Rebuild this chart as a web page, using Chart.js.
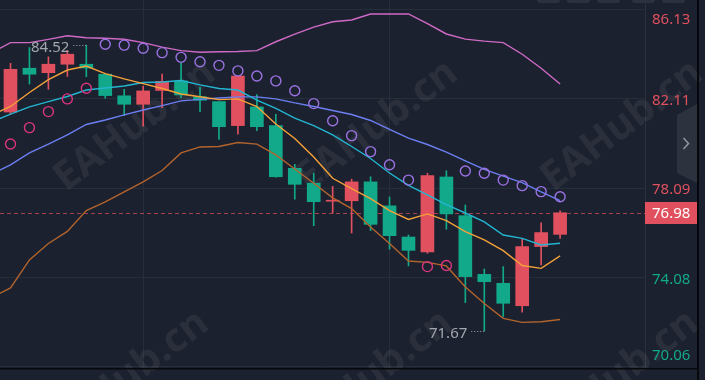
<!DOCTYPE html>
<html><head><meta charset="utf-8">
<script src="https://cdn.jsdelivr.net/npm/chart.js@4.4.1/dist/chart.umd.min.js"></script>
<style>html,body{margin:0;padding:0;background:#1b212e;overflow:hidden}#wrap{width:705px;height:380px;position:relative}</style>
</head><body><div id="wrap"><canvas id="c" width="705" height="380"></canvas></div>
<script>
// ---- data ----
const slots = [0,1,2,3,4,5,6,7,8,9,10,11,12,13,14,15,16,17,18,19,20,21,22,23,24,25,26,27,28,29];
const open  = [81.51,83.48,83.28,83.66,83.66,83.21,82.24,81.86,82.48,82.91,82.20,81.98,80.90,81.74,80.90,78.98,78.31,77.50,77.52,78.37,77.29,75.89,75.22,78.59,76.85,74.21,73.81,72.80,75.46,76.01];
const high  = [83.70,84.41,83.99,84.28,84.52,83.21,82.53,82.68,83.22,83.73,82.62,81.98,83.13,82.29,81.41,79.16,78.76,78.17,78.49,78.60,77.69,75.98,78.76,78.87,77.33,74.45,74.56,75.83,76.53,77.07];
const low   = [81.42,82.77,82.53,83.11,83.10,82.13,81.35,80.87,81.71,82.16,81.53,80.28,80.51,80.67,78.58,77.59,76.40,76.96,76.07,76.18,75.34,74.59,75.16,76.24,72.94,71.67,72.31,72.51,74.63,75.83];
const close = [83.43,83.21,83.66,84.11,83.49,82.25,81.86,82.46,82.89,82.28,82.04,80.85,83.13,80.85,78.60,78.26,77.48,77.51,78.37,76.46,75.95,75.29,78.65,76.93,74.11,73.88,72.91,75.46,76.09,76.98];

const lineSlots = [-1,0,1,2,3,4,5,6,7,8,9,10,11,12,13,14,15,16,17,18,19,20,21,22,23,24,25,26,27,28,29];
const bollUpper = [84.17,84.63,84.63,84.78,84.94,84.85,84.83,84.78,84.63,84.43,84.27,84.20,84.22,84.23,84.27,84.67,85.01,85.33,85.57,85.65,85.92,85.92,85.92,85.49,85.02,84.79,84.70,84.63,84.11,83.48,82.77];
const ma5       = [81.38,81.76,82.39,82.97,83.40,83.58,83.24,83.00,82.79,82.57,82.32,82.20,82.07,82.10,81.76,80.97,80.32,79.49,78.53,78.07,77.62,77.08,76.68,76.93,76.63,76.13,75.76,75.28,74.61,74.48,75.04];
const ma10      = [81.06,81.42,81.74,81.98,82.21,82.50,82.59,82.68,82.84,82.86,82.93,82.73,82.57,82.50,82.05,81.67,81.24,80.90,80.48,79.96,79.42,78.77,78.21,77.78,77.35,76.97,76.57,75.98,75.83,75.53,75.61];
const bollMid   = [78.72,79.13,79.67,80.07,80.48,80.95,81.15,81.38,81.60,81.80,82.01,82.08,82.14,82.19,82.19,82.10,81.92,81.76,81.58,81.40,81.13,80.73,80.34,80.05,79.71,79.31,78.93,78.63,78.34,77.92,77.53];
const bollLower = [73.17,73.60,74.86,75.60,76.14,77.08,77.47,77.92,78.37,78.88,79.67,79.94,79.96,80.14,80.07,79.58,78.95,78.31,77.65,77.17,76.34,75.60,74.81,74.75,74.59,73.64,72.90,72.23,72.05,72.08,72.18];
const sar       = [80.07,80.81,81.53,82.10,82.58,84.56,84.52,84.38,84.18,83.97,83.77,83.61,83.36,83.13,82.91,82.47,81.89,81.12,80.45,79.73,79.14,78.45,74.56,74.61,78.86,78.76,78.45,78.20,77.93,77.70];

const yTickLabels = ['70.06','74.08','78.09','82.11','86.13'];
const xGridSlots = [7, 20];
const lastPrice = 76.98;
const watermark = 'EAHub.cn';

// ---- styles ----
const BG = '#1b212e', GRID = '#262e3a';
const UP = '#e0505f', DOWN = '#12a98a';
const candleColors = slots.map((s,i) => close[i] >= open[i] ? UP : DOWN);
const sarColors = slots.map((s,i) => sar[i] < low[i] ? '#d8357f' : '#9a72e2');

const pts = (xs, ys) => xs.map((x,i) => ({x, y: ys[i]}));
const lineDs = (label, ys, color) => ({
  type: 'line', label, data: pts(lineSlots, ys), borderColor: color, borderWidth: 1.4,
  pointRadius: 0, tension: 0, fill: false, order: 1
});

const decor = {
  id: 'decor',
  beforeDraw(chart) {
    const {ctx, width, height} = chart;
    ctx.save();
    ctx.fillStyle = BG; ctx.fillRect(0, 0, width, height);
    ctx.fillStyle = '#2b313d';
    [537,567,597,632,662].forEach(x => { ctx.beginPath(); ctx.roundRect(x, -10, 23, 13, 3); ctx.fill(); });
    ctx.restore();
  },
  beforeDatasetsDraw(chart) {
    const {ctx} = chart;
    ctx.save();
    ctx.font = 'bold 40px "Noto Sans"';
    ctx.fillStyle = 'rgba(255,255,255,0.065)';
    ctx.textAlign = 'center'; ctx.textBaseline = 'middle';
    [[135,126],[377,126],[622,126],[128,376],[372,376],[618,376]].forEach(([x,y]) => {
      ctx.save(); ctx.translate(x, y); ctx.rotate(-37 * Math.PI / 180);
      ctx.fillText(watermark, 0, 0); ctx.restore();
    });
    const ys = chart.scales.y, a = chart.chartArea;
    const py = Math.round(ys.getPixelForValue(lastPrice)) + 0.5;
    ctx.strokeStyle = 'rgba(224,80,95,0.7)'; ctx.lineWidth = 1; ctx.setLineDash([4,3]);
    ctx.beginPath(); ctx.moveTo(a.left, py); ctx.lineTo(a.right, py); ctx.stroke();
    ctx.restore();
  },
  afterDraw(chart) {
    const {ctx} = chart;
    const ys = chart.scales.y, xs = chart.scales.x, a = chart.chartArea;
    ctx.save();
    // axis labels
    ctx.font = '15px "Noto Sans"'; ctx.textBaseline = 'middle'; ctx.textAlign = 'left';
    yTickLabels.forEach(t => {
      const v = parseFloat(t);
      let py = ys.getPixelForValue(v) + 2;
      py = Math.min(Math.max(py, a.top + 20), a.bottom - 12);
      ctx.fillStyle = v > lastPrice ? UP : DOWN;
      ctx.fillText(t, a.right + 7, py);
    });
    // last price badge
    const lp = ys.getPixelForValue(lastPrice);
    ctx.fillStyle = UP; ctx.fillRect(a.right, Math.round(lp) - 11, 52, 22);
    ctx.fillStyle = '#ffffff'; ctx.fillText(lastPrice.toFixed(2), a.right + 7, lp + 1);
    // high / low markers
    const hi = Math.max(...high), lo = Math.min(...low);
    const mark = (val, i) => {
      const cx = xs.getPixelForValue(slots[i]), py = ys.getPixelForValue(val);
      ctx.strokeStyle = '#a3a7ae'; ctx.lineWidth = 1; ctx.setLineDash([1,2]);
      ctx.beginPath(); ctx.moveTo(cx - 13, Math.round(py) + 0.5); ctx.lineTo(cx, Math.round(py) + 0.5); ctx.stroke();
      ctx.setLineDash([]);
      ctx.fillStyle = '#a3a7ae'; ctx.textAlign = 'right';
      ctx.fillText(val.toFixed(2), cx - 17, py + 3);
    };
    mark(hi, high.indexOf(hi)); mark(lo, low.indexOf(lo));
    // bottom black line & right strip
    ctx.fillStyle = '#06080b';
    ctx.fillRect(0, a.bottom, 698, 1.5);
    ctx.fillRect(697, 0, 2, 380);
    // side tab
    ctx.fillStyle = '#2c323e';
    ctx.beginPath(); ctx.moveTo(677, 115); ctx.lineTo(697, 104); ctx.lineTo(697, 183); ctx.lineTo(677, 173); ctx.closePath(); ctx.fill();
    ctx.strokeStyle = '#8e939c'; ctx.lineWidth = 1.6;
    ctx.beginPath(); ctx.moveTo(683.5, 138); ctx.lineTo(688.5, 143.5); ctx.lineTo(683.5, 149); ctx.stroke();
    ctx.restore();
  }
};

new Chart(document.getElementById('c'), {
  type: 'bar',
  data: {
    datasets: [
      { type: 'line', label: 'SAR', data: pts(slots, sar), showLine: false, pointRadius: 5,
        pointBorderWidth: 1.4, pointBackgroundColor: 'rgba(0,0,0,0)', pointBorderColor: sarColors, order: 0 },
      lineDs('BOLL UP', bollUpper, '#cf6ac6'),
      lineDs('MA5', ma5, '#f5a13a'),
      lineDs('MA10', ma10, '#22b6d2'),
      lineDs('BOLL MID', bollMid, '#6b7ff2'),
      lineDs('BOLL DN', bollLower, '#b3642d'),
      { label: 'body', data: slots.map((s,i) => ({x: s, y: [open[i], close[i]]})), backgroundColor: candleColors,
        barThickness: 13, minBarLength: 1, grouped: false, borderWidth: 0, order: 2 },
      { label: 'wick', data: slots.map((s,i) => ({x: s, y: [low[i], high[i]]})), backgroundColor: candleColors,
        barThickness: 1, grouped: false, borderWidth: 0, order: 3 }
    ]
  },
  options: {
    responsive: false, animation: false, events: [], devicePixelRatio: 1,
    layout: { padding: 0, autoPadding: false },
    plugins: { legend: { display: false }, tooltip: { enabled: false } },
    scales: {
      x: { type: 'linear', min: -0.554, max: 33.48, offset: false,
           grid: { color: GRID, drawTicks: false, offset: false }, border: { display: false },
           ticks: { display: false },
           afterBuildTicks: s => { s.ticks = xGridSlots.map(v => ({value: v})); },
           afterFit: s => { s.height = 12; } },
      y: { type: 'linear', position: 'right', min: 70.0, max: 86.548, beginAtZero: false,
           grid: { color: GRID, drawTicks: false }, border: { display: true, color: '#2a313d' },
           ticks: { display: false },
           afterBuildTicks: s => { s.ticks = yTickLabels.map(t => ({value: parseFloat(t)})); },
           afterFit: s => { s.width = 60; } }
    }
  },
  plugins: [decor]
});
</script></body></html>
